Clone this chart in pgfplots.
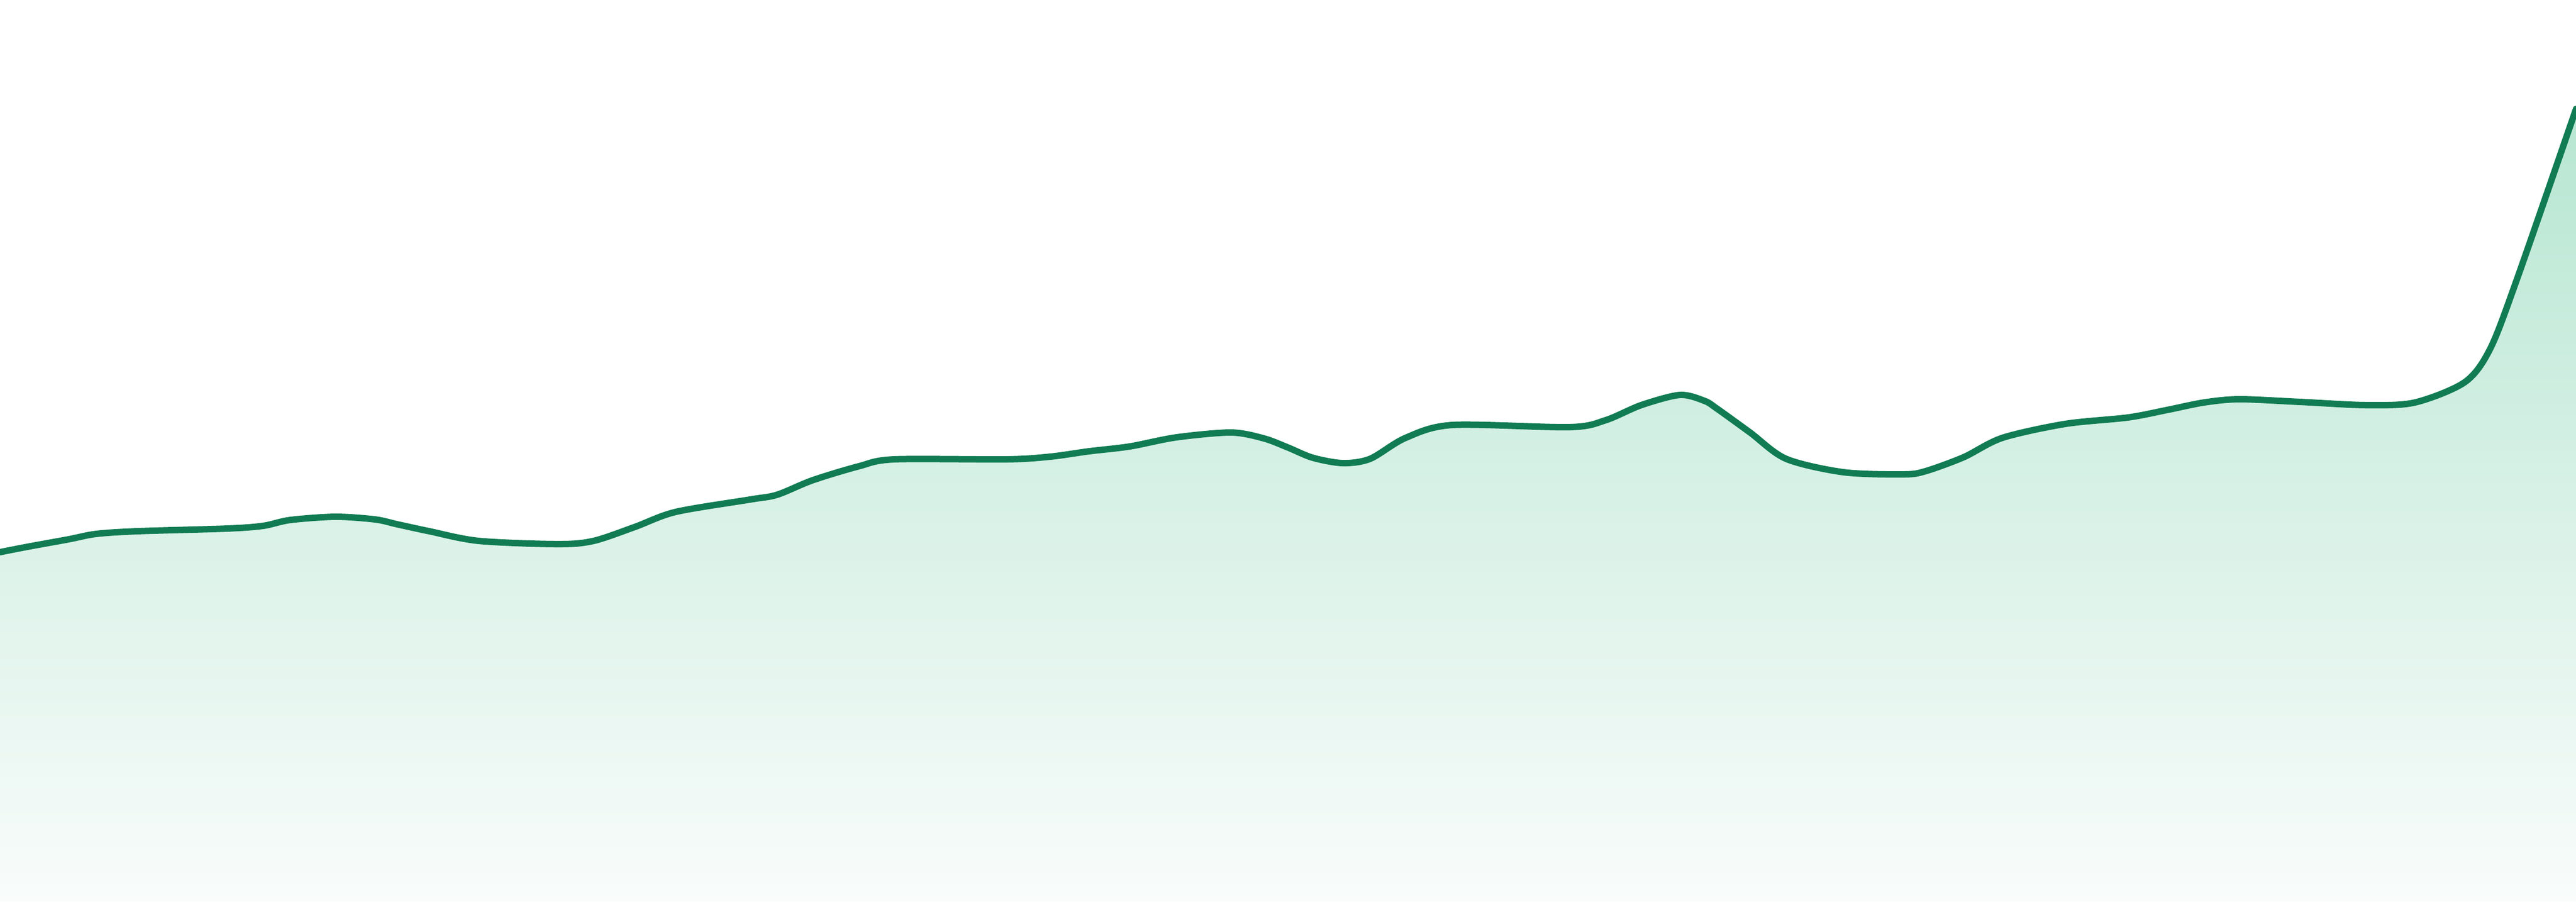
\documentclass[border=0pt]{standalone}
\usepackage{pgfplots}
\pgfplotsset{compat=1.18}

\definecolor{linegreen}{HTML}{117C53}
\definecolor{filltop}{HTML}{B7E6D2}
\definecolor{fillbot}{HTML}{F9FCFB}

% curve, x and y in pixel units of the 4800x1680 frame
\pgfplotstableread{
x y
0 651
51 661
128 675
179 685
255 690
423 695
490 700
541 711
625 717
699 712
740 703
800 690
892 672
1040 666
1106 672
1183 698
1259 726
1397 749
1448 758
1514 785
1600 811
1666 824
1876 824
1957 829
2029 839
2105 848
2192 865
2294 874
2355 863
2400 846
2446 827
2502 817
2553 825
2619 864
2706 888
2925 884
2992 897
3058 925
3130 944
3176 933
3200 918
3261 874
3328 825
3435 800
3547 796
3588 802
3659 828
3731 864
3848 890
3965 902
4038 916
4107 930
4173 936
4286 931
4410 925
4500 930
4593 968
4640 1030
4690 1160
4800 1477
}\trend

\begin{document}
\begin{tikzpicture}
\begin{axis}[
  hide axis,
  scale only axis,
  width=400pt,
  height=140pt,
  xmin=0, xmax=4800,
  ymin=0, ymax=1680,
]
\addplot[draw=none, smooth, top color=filltop, bottom color=fillbot] table {\trend} \closedcycle;
\addplot[linegreen, line width=1pt, smooth, line cap=round, mark=none] table {\trend};
\end{axis}
\pgfresetboundingbox
\path (current axis.south west) rectangle (current axis.north east);
\end{tikzpicture}
\end{document}
